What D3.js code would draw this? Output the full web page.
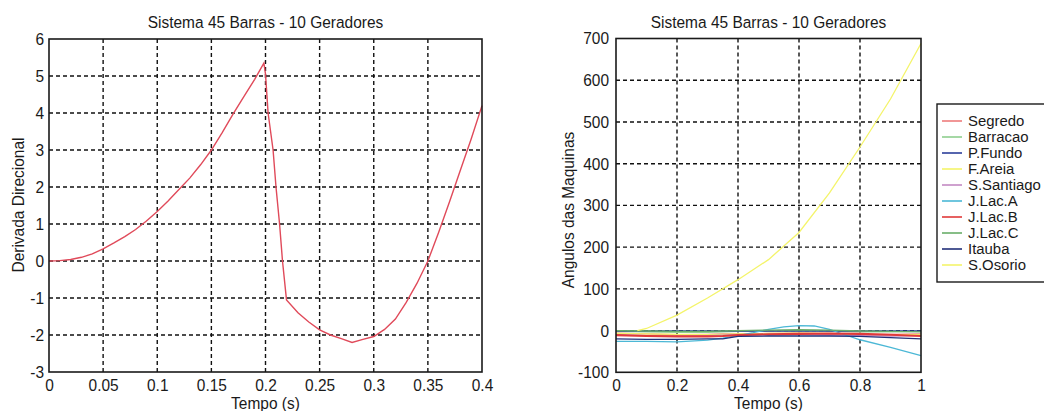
<!DOCTYPE html>
<html>
<head>
<meta charset="utf-8">
<script src="https://cdn.jsdelivr.net/npm/d3@7"></script>
<style>
  html, body { margin: 0; padding: 0; background: #ffffff; }
  svg { display: block; }
  text { font-family: "Liberation Sans", Arial, sans-serif; fill: #1a1a1a; }
</style>
</head>
<body>
<svg id="chart" width="1044" height="411"></svg>
<script>
// ---------- DATA ----------
const chartTitle = "Sistema 45 Barras - 10 Geradores";

// Left chart: Derivada Direcional vs Tempo
const leftTime = [0, 0.01, 0.02, 0.03, 0.04, 0.05, 0.06, 0.07, 0.08, 0.09, 0.1, 0.11, 0.12, 0.13, 0.14, 0.15, 0.16, 0.17, 0.18, 0.19, 0.1985, 0.2, 0.2024, 0.207, 0.2097, 0.213, 0.2157, 0.2194, 0.23, 0.24, 0.25, 0.26, 0.27, 0.28, 0.29, 0.3, 0.31, 0.32, 0.33, 0.34, 0.35, 0.36, 0.37, 0.38, 0.39, 0.4];
const leftDeriv = [0, 0.01, 0.04, 0.10, 0.19, 0.33, 0.49, 0.66, 0.85, 1.08, 1.34, 1.62, 1.93, 2.24, 2.60, 3.00, 3.47, 3.97, 4.44, 4.91, 5.35, 5.05, 4.0, 3.0, 2.0, 1.0, 0.0, -1.05, -1.40, -1.65, -1.86, -2.00, -2.10, -2.20, -2.12, -2.04, -1.85, -1.57, -1.12, -0.60, 0.0, 0.78, 1.60, 2.45, 3.30, 4.20];
const leftXTicks = [0, 0.05, 0.1, 0.15, 0.2, 0.25, 0.3, 0.35, 0.4];
const leftXLabels = ["0", "0.05", "0.1", "0.15", "0.2", "0.25", "0.3", "0.35", "0.4"];
const leftYTicks = [-3, -2, -1, 0, 1, 2, 3, 4, 5, 6];
const leftYLabels = ["-3", "-2", "-1", "0", "1", "2", "3", "4", "5", "6"];

// Right chart: Angulos das Maquinas vs Tempo
const machineNames = ["Segredo", "Barracao", "P.Fundo", "F.Areia", "S.Santiago", "J.Lac.A", "J.Lac.B", "J.Lac.C", "Itauba", "S.Osorio"];
const machineColors = ["#ee7c7c", "#8fcf8f", "#2c3f9a", "#f4f46a", "#c48ac4", "#4cb8d6", "#e03a3a", "#6aae6a", "#22307a", "#f4f46a"];
const timeGrid = [0, 0.1, 0.2, 0.3, 0.35, 0.4, 0.5, 0.6, 0.7, 0.8, 0.9, 1.0];
const segredo    = [-6, -8, -10, -9, -8, -8, -7, -6, -8, -10, -9, -8];
const barracao   = [-2, -3, -4, -4, -3, -2, -1, 0, -1, -3, -3, -2];
const pFundo     = [-1, -1, -1, -1, -1, -1, -1, -1, -1, -1, -1, -1];
const fAreia     = [-7, -8, -9, -10, -9, -8, -7, -6, -7, -9, -10, -10];
const sSantiago  = [-10, -12, -13, -12, -11, -10, -9, -9, -10, -12, -13, -12];
const jLacATime  = [0, 0.1, 0.2, 0.3, 0.35, 0.4, 0.45, 0.5, 0.55, 0.6, 0.65, 0.7, 0.75, 0.8, 0.9, 1.0];
const jLacA      = [-26, -26, -27, -23, -18, -12, -5, 3, 9, 12, 11, 3, -10, -22, -40, -60];
const jLacB      = [-11, -13, -14, -14, -13, -11, -9, -8, -7, -8, -10, -13];
const jLacC      = [0, -1, -2, -2, -1, 0, 1, 2, 1, -1, -2, -3];
const itauba     = [-20, -21, -21, -20, -20, -14, -13, -13, -13, -14, -17, -20];
const sOsorioTime = [0.07, 0.1, 0.2, 0.3, 0.4, 0.5, 0.6, 0.7, 0.8, 0.9, 1.0];
const sOsorio    = [0, 5, 37, 78, 122, 170, 235, 330, 440, 555, 688];
const rightXTicks = [0, 0.2, 0.4, 0.6, 0.8, 1];
const rightXLabels = ["0", "0.2", "0.4", "0.6", "0.8", "1"];
const rightYTicks = [-100, 0, 100, 200, 300, 400, 500, 600, 700];
const rightYLabels = ["-100", "0", "100", "200", "300", "400", "500", "600", "700"];

// ---------- DRAW ----------
const svg = d3.select("#chart");
const FS = "17px";
const SX = 0.91; // horizontal condensing of glyphs (scan looks vertically stretched)

function drawPanel(cfg) {
  const x = d3.scaleLinear().domain(cfg.xDomain).range([cfg.x0, cfg.x1]);
  const y = d3.scaleLinear().domain(cfg.yDomain).range([cfg.y1, cfg.y0]);
  const g = svg.append("g");

  // grid
  const grid = g.append("g");
  grid.selectAll("line.vx").data(cfg.xTicks.filter(t => t !== cfg.xDomain[0] && t !== cfg.xDomain[1]))
    .join("line").attr("x1", d => x(d)).attr("x2", d => x(d)).attr("y1", cfg.y0).attr("y2", cfg.y1)
    .attr("stroke", "#111").attr("stroke-width", 1.4).attr("stroke-dasharray", "4,3");
  grid.selectAll("line.hy").data(cfg.yTicks.filter(t => t !== cfg.yDomain[0] && t !== cfg.yDomain[1]))
    .join("line").attr("y1", d => y(d)).attr("y2", d => y(d)).attr("x1", cfg.x0).attr("x2", cfg.x1)
    .attr("stroke", "#111").attr("stroke-width", 1.4).attr("stroke-dasharray", "4,3");

  // series
  const line = d3.line().x(d => x(d[0])).y(d => y(d[1]));
  cfg.series.forEach(s => {
    g.append("path").datum(s.t.map((t, i) => [t, s.v[i]]))
      .attr("d", line).attr("fill", "none").attr("stroke", s.color).attr("stroke-width", s.w || 1.3);
  });

  // axes with labels
  const xl = d3.scaleOrdinal().domain(cfg.xTicks).range(cfg.xLabels);
  const yl = d3.scaleOrdinal().domain(cfg.yTicks).range(cfg.yLabels);
  const ax = g.append("g").attr("transform", `translate(0,${cfg.y1})`)
    .call(d3.axisBottom(x).tickValues(cfg.xTicks).tickFormat(d => xl(d)).tickSize(0).tickPadding(7));
  const ay = g.append("g").attr("transform", `translate(${cfg.x0},0)`)
    .call(d3.axisLeft(y).tickValues(cfg.yTicks).tickFormat(d => yl(d)).tickSize(0).tickPadding(cfg.yPad));
  [ax, ay].forEach(a => {
    a.select(".domain").remove();
    a.selectAll("text").style("font-size", FS).style("font-family", '"Liberation Sans", Arial, sans-serif').attr("fill", "#1a1a1a");
  });
  ax.selectAll("text").attr("transform", `scale(${SX},1)`);
  ay.selectAll("text").attr("x", -cfg.yPad / SX).attr("transform", `scale(${SX},1)`);

  // box
  g.append("rect").attr("x", cfg.x0).attr("y", cfg.y0).attr("width", cfg.x1 - cfg.x0).attr("height", cfg.y1 - cfg.y0)
    .attr("fill", "none").attr("stroke", "#1a1a1a").attr("stroke-width", 1.6);

  // titles
  const cx = (cfg.x0 + cfg.x1) / 2;
  g.append("text").attr("transform", `translate(${cx},28) scale(${SX},1)`).attr("text-anchor", "middle").style("font-size", FS).text(chartTitle);
  g.append("text").attr("transform", `translate(${cx},409) scale(${SX},1)`).attr("text-anchor", "middle").style("font-size", FS).text("Tempo (s)");
  g.append("text").attr("transform", `translate(${cfg.yLabelX},${cfg.yLabelY}) rotate(-90) scale(${SX},1)`)
    .attr("text-anchor", "middle").attr("dy", "0.35em").style("font-size", FS).text(cfg.yTitle);
  return { x, y };
}

drawPanel({
  x0: 49, x1: 482, y0: 39, y1: 372,
  xDomain: [0, 0.4], yDomain: [-3, 6],
  xTicks: leftXTicks, xLabels: leftXLabels, yTicks: leftYTicks, yLabels: leftYLabels,
  yPad: 5, yTitle: "Derivada Direcional", yLabelX: 18, yLabelY: 205,
  series: [{ t: leftTime, v: leftDeriv, color: "#e04a5a", w: 1.4 }]
});

const rightSeriesValues = [segredo, barracao, pFundo, fAreia, sSantiago, jLacA, jLacB, jLacC, itauba, sOsorio];
const rightSeriesTimes = [timeGrid, timeGrid, timeGrid, timeGrid, timeGrid, jLacATime, timeGrid, timeGrid, timeGrid, sOsorioTime];
drawPanel({
  x0: 616, x1: 921, y0: 38.5, y1: 372.3,
  xDomain: [0, 1], yDomain: [-100, 700],
  xTicks: rightXTicks, xLabels: rightXLabels, yTicks: rightYTicks, yLabels: rightYLabels,
  yPad: 7, yTitle: "Angulos das Maquinas", yLabelX: 568, yLabelY: 210,
  series: machineNames.map((n, i) => ({ t: rightSeriesTimes[i], v: rightSeriesValues[i], color: machineColors[i], w: i === 6 ? 2.2 : 1.3 }))
});

// legend
const leg = svg.append("g");
const legY = d3.scalePoint().domain(machineNames).range([121, 265]);
leg.append("rect").attr("x", 937).attr("y", 104).attr("width", 120).attr("height", 178)
  .attr("fill", "#fff").attr("stroke", "#1a1a1a").attr("stroke-width", 1.4);
machineNames.forEach((n, i) => {
  leg.append("line").attr("x1", 942).attr("x2", 962).attr("y1", legY(n)).attr("y2", legY(n))
    .attr("stroke", machineColors[i]).attr("stroke-width", 1.6);
  leg.append("text").attr("transform", `translate(968,${legY(n)}) scale(1.08,1)`).attr("dy", "0.35em").style("font-size", "13.8px").text(n);
});
</script>
</body>
</html>
